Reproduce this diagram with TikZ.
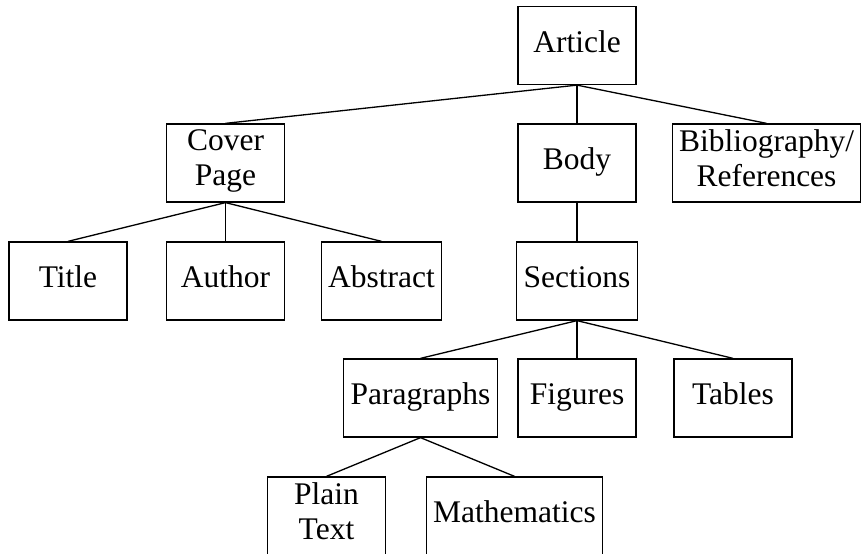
\documentclass[tikz,border=0pt]{standalone}
\usepackage{fontspec}
\setmainfont{Liberation Serif}
\usepackage{tikz}
\usetikzlibrary{positioning}

\begin{document}
\begin{tikzpicture}[x=0.381pt,y=-0.381pt,line width=0.5pt,
	box/.style={draw,rectangle,align=center,inner xsep=2.6pt,inner ysep=1pt,
		minimum width=45pt,minimum height=29.7pt,
		font=\fontsize{12}{13.3}\selectfont,
		execute at begin node=\strut,execute at end node=\strut}]
\useasboundingbox (0,0) rectangle (865,554);

\node[box] (Article)  at (577,45.5) {Article};

\node[box] (Cover)    at (225.5,163) {Cover\\Page};
\node[box] (Body)     at (577,163)   {Body};
\node[box] (Bib)      at (766.5,163) {Bibliography/\\References};

\node[box] (Title)    at (68,281)    {Title};
\node[box] (Author)   at (225.5,281) {Author};
\node[box] (Abstract) at (381.5,281) {Abstract};
\node[box] (Sections) at (577,281)   {Sections};

\node[box] (Para)     at (420.5,398) {Paragraphs};
\node[box] (Figures)  at (577,398)   {Figures};
\node[box] (Tables)   at (733,398)   {Tables};

\node[box] (Plain)    at (326.5,516) {Plain\\Text};
\node[box] (Math)     at (514.5,516) {Mathematics};

\draw (Article.south) -- (Cover.north);
\draw (Article.south) -- (Body.north);
\draw (Article.south) -- (Bib.north);
\draw (Cover.south)   -- (Title.north);
\draw (Cover.south)   -- (Author.north);
\draw (Cover.south)   -- (Abstract.north);
\draw (Body.south)    -- (Sections.north);
\draw (Sections.south)-- (Para.north);
\draw (Sections.south)-- (Figures.north);
\draw (Sections.south)-- (Tables.north);
\draw (Para.south)    -- (Plain.north);
\draw (Para.south)    -- (Math.north);
\end{tikzpicture}
\end{document}
